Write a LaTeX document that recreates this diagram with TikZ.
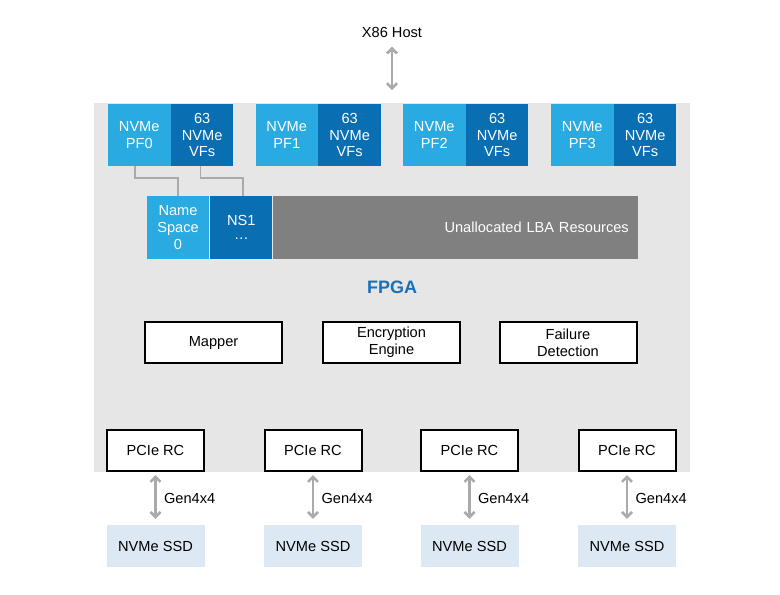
\documentclass[tikz,border=0pt]{standalone}
\usepackage{fontspec}
\setmainfont{Liberation Sans}
\usetikzlibrary{positioning}
\usetikzlibrary{arrows.meta}

\definecolor{nvlight}{RGB}{41,170,225}
\definecolor{nvdark}{RGB}{10,110,178}
\definecolor{fpgabg}{RGB}{230,230,230}
\definecolor{lbagray}{RGB}{128,128,128}
\definecolor{ssdblue}{RGB}{221,232,245}
\definecolor{linkgray}{RGB}{170,170,170}
\definecolor{fpgablue}{RGB}{24,112,184}

\tikzset{
  txt/.style={font=\fontsize{14.6}{16.6}\selectfont},
  pfbox/.style={txt,fill=nvlight,text=white,minimum width=62.5pt,minimum height=62pt,inner sep=0pt,align=center},
  vfbox/.style={pfbox,fill=nvdark},
  fnbox/.style={txt,draw=black,line width=2pt,fill=white,minimum width=137pt,minimum height=41pt,inner sep=0pt,align=center},
  rcbox/.style={fnbox,minimum width=97pt},
  ssdbox/.style={txt,fill=ssdblue,minimum width=98pt,minimum height=42pt,inner sep=0pt},
  link/.style={linkgray,line width=1.6pt},
  bus/.style={linkgray,line width=2.6pt,{Straight Barb[length=5pt,width=10pt]}-{Straight Barb[length=5pt,width=10pt]}},
  buslabel/.style={txt,text=black},
}

\begin{document}
\begin{tikzpicture}[x=1pt,y=-1pt]
\useasboundingbox (0,0) rectangle (780,595);
\fill[fpgabg] (94,103) rectangle (690,472);

\node[txt] (host) at (392,32) {X86 Host};
\coordinate (hostend) at (392,90);
\draw[bus,shorten <=6pt] (host) -- (hostend);

\node[pfbox] (pf0) at (139.25,135) {NVMe\\PF0};
\node[vfbox,right=0pt of pf0] (vf0) {63\\NVMe\\VFs};
\node[pfbox] (pf1) at (286.75,135) {NVMe\\PF1};
\node[vfbox,right=0pt of pf1] (vf1) {63\\NVMe\\VFs};
\node[pfbox] (pf2) at (434.25,135) {NVMe\\PF2};
\node[vfbox,right=0pt of pf2] (vf2) {63\\NVMe\\VFs};
\node[pfbox] (pf3) at (582.25,135) {NVMe\\PF3};
\node[vfbox,right=0pt of pf3] (vf3) {63\\NVMe\\VFs};

\node[pfbox,minimum width=62pt,minimum height=63pt] (ns0) at (178,227.5) {Name\\Space\\0};
\node[vfbox,minimum width=62pt,minimum height=63pt,right=1pt of ns0] (ns1) {NS1\\[-2pt]\ldots};
\node[txt,fill=lbagray,text=white,minimum height=63pt,inner ysep=0pt,inner xsep=9pt,text width=347pt,align=right,right=0pt of ns1] (lba) {Unallocated LBA Resources};

\draw[link] ([xshift=-4pt]pf0.south) -- ++(0,12) -| (ns0.north);
\draw[link] ([xshift=-1.5pt]vf0.south) -- ++(0,12) -| ([xshift=1.5pt]ns1.north);

\node[font=\bfseries\fontsize{18}{20}\selectfont,text=fpgablue] (fpga) at (392,287) {FPGA};

\node[fnbox] (mapper) at (213.5,342.5) {Mapper};
\node[fnbox] (crypt) at (391.5,342.5) {Encryption\\Engine};
\node[fnbox] (fail) at (568,342.5) {Failure\\Detection};

\node[rcbox] (rc0) at (155.5,450.5) {PCIe RC};
\node[rcbox] (rc1) at (313,450.5) {PCIe RC};
\node[rcbox] (rc2) at (469.5,450.5) {PCIe RC};
\node[rcbox] (rc3) at (627,450.5) {PCIe RC};

\node[ssdbox] (ssd0) at (155.5,546) {NVMe SSD};
\node[ssdbox] (ssd1) at (313,546) {NVMe SSD};
\node[ssdbox] (ssd2) at (469.5,546) {NVMe SSD};
\node[ssdbox] (ssd3) at (627,546) {NVMe SSD};

\draw[bus,shorten <=3pt,shorten >=6pt] (rc0) -- (ssd0) node[buslabel,midway,right=4pt] {Gen4x4};
\draw[bus,shorten <=3pt,shorten >=6pt] (rc1) -- (ssd1) node[buslabel,midway,right=4pt] {Gen4x4};
\draw[bus,shorten <=3pt,shorten >=6pt] (rc2) -- (ssd2) node[buslabel,midway,right=4pt] {Gen4x4};
\draw[bus,shorten <=3pt,shorten >=6pt] (rc3) -- (ssd3) node[buslabel,midway,right=4pt] {Gen4x4};

\end{tikzpicture}
\end{document}
